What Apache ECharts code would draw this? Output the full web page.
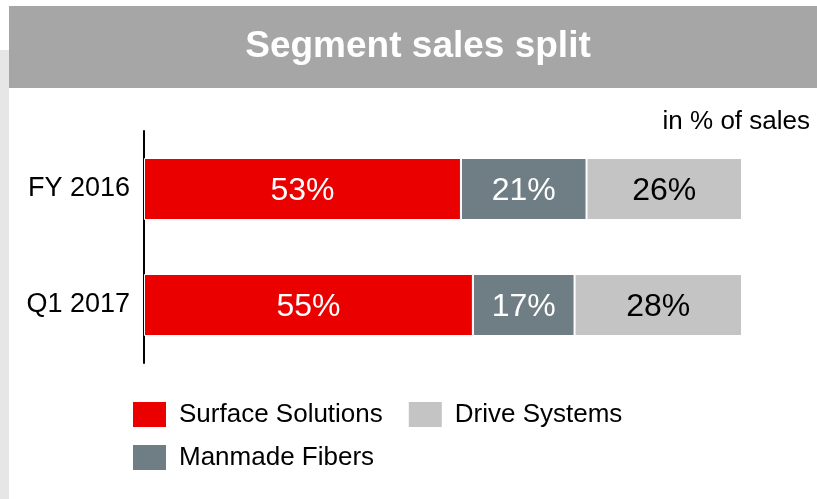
<!DOCTYPE html>
<html>
<head>
<meta charset="utf-8">
<script src="https://cdn.jsdelivr.net/npm/echarts@6/dist/echarts.min.js"></script>
<style>
  html, body { margin: 0; padding: 0; background: #fff; }
  #chart { width: 817px; height: 499px; }
</style>
</head>
<body>
<div id="chart"></div>
<script>
const categories = ['FY 2016', 'Q1 2017']
const surfaceSolutions = [53, 55]
const manmadeFibers = [21, 17]
const driveSystems = [26, 28]

const FONT = '"Liberation Sans", Arial, sans-serif'

const chart = echarts.init(document.getElementById('chart'))

function seg(name, data, color, labelColor) {
  return {
    name,
    type: 'bar',
    stack: 'total',
    data,
    barWidth: 62,
    itemStyle: { color, borderColor: '#fff', borderWidth: 1 },
    label: {
      show: true,
      position: 'inside',
      offset: [0, 2],
      formatter: '{c}%',
      color: labelColor,
      fontFamily: FONT,
      fontSize: 32,
    },
  }
}

const legendText = { fontFamily: FONT, fontSize: 26, color: '#000', padding: [2, 0, 0, 7] }

chart.setOption({
  animation: false,
  graphic: [
    { type: 'rect', shape: { x: 0, y: 50, width: 9, height: 449 }, style: { fill: '#e6e6e6' } },
    { type: 'rect', shape: { x: 9, y: 6, width: 808, height: 82 }, style: { fill: '#a6a6a6' } },
    {
      type: 'text', x: 418, y: 47,
      style: {
        text: 'Segment sales split', fill: '#fff', font: 'bold 37px ' + FONT,
        align: 'center', verticalAlign: 'middle',
      },
    },
    {
      type: 'text', x: 810, y: 122,
      style: {
        text: 'in % of sales', fill: '#000', font: '26px ' + FONT,
        align: 'right', verticalAlign: 'middle',
      },
    },
  ],
  grid: { left: 144, right: 75, top: 131, bottom: 136 },
  xAxis: { type: 'value', min: 0, max: 100, show: false },
  yAxis: {
    type: 'category',
    inverse: true,
    data: categories,
    axisLine: { lineStyle: { color: '#000', width: 2 } },
    axisTick: { show: false },
    axisLabel: { color: '#000', fontFamily: FONT, fontSize: 27, margin: 14, padding: [4, 0, 0, 0] },
  },
  legend: [
    {
      left: 131, top: 400, padding: 0, itemWidth: 35, itemHeight: 27, itemGap: 24, icon: 'rect',
      data: ['Surface Solutions', 'Drive Systems'],
      textStyle: legendText,
    },
    {
      left: 131, top: 443, padding: 0, itemWidth: 35, itemHeight: 27, icon: 'rect',
      data: ['Manmade Fibers'],
      textStyle: legendText,
    },
  ],
  series: [
    seg('Surface Solutions', surfaceSolutions, '#eb0000', '#fff'),
    seg('Manmade Fibers', manmadeFibers, '#6f7d84', '#fff'),
    seg('Drive Systems', driveSystems, '#c4c4c4', '#000'),
  ],
})
</script>
</body>
</html>
